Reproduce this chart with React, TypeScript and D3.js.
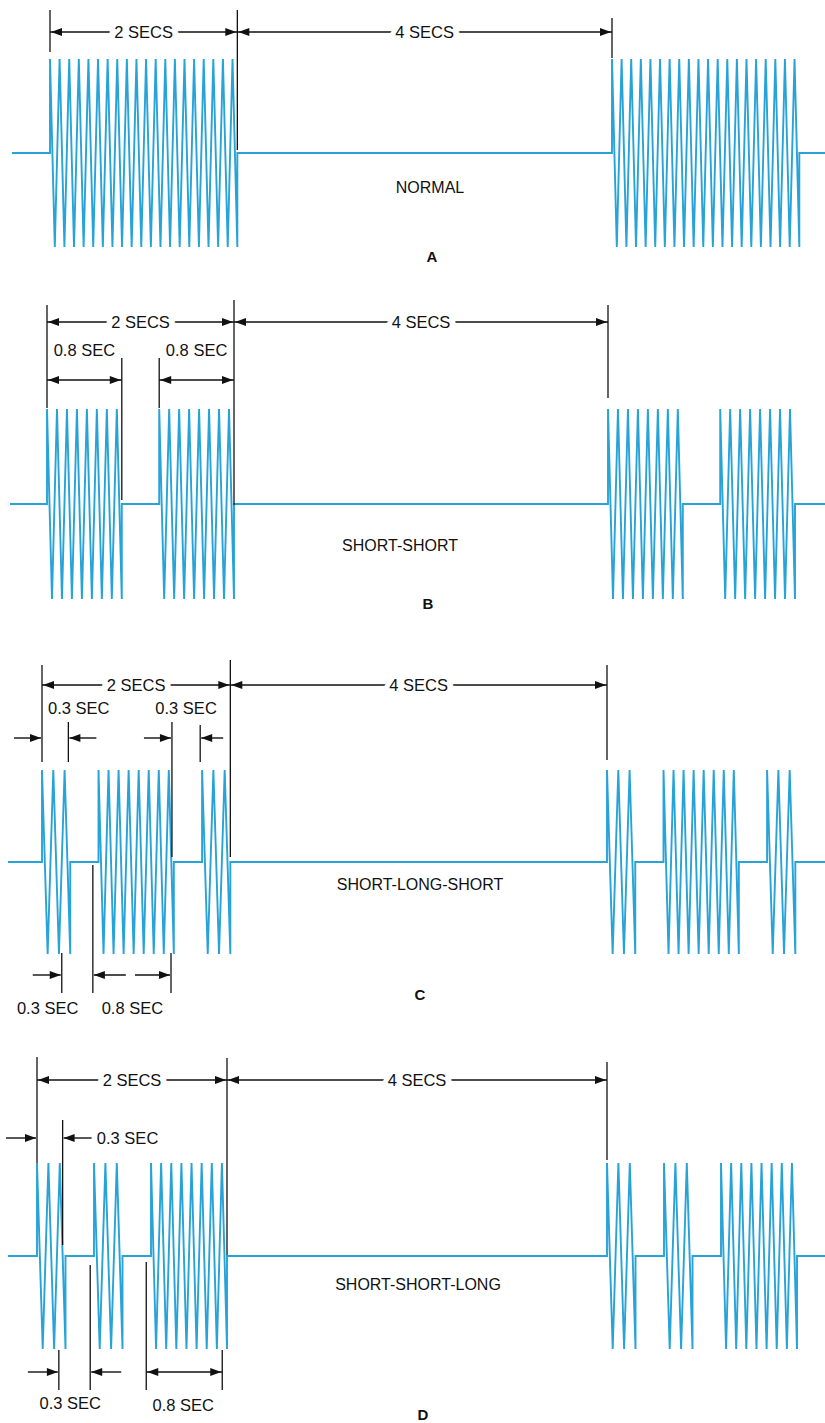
import { useEffect, useRef } from 'react';
import * as d3 from 'd3';

// carrier and repeat timing
const carrierHz = 10;
const repeatSecs = 6;

// burst patterns, seconds from the start of each cycle
const normalBursts = [[0, 2]];
const shortShortBursts = [[0, 0.8], [1.2, 2]];
const shortLongShortBursts = [[0, 0.3], [0.6, 1.4], [1.7, 2]];
const shortShortLongBursts = [[0, 0.3], [0.6, 0.9], [1.2, 2]];

const panelLetters = ['A', 'B', 'C', 'D'];
const patternNames = ['NORMAL', 'SHORT-SHORT', 'SHORT-LONG-SHORT', 'SHORT-SHORT-LONG'];
const headerMarks = [0, 2, 6];
const headerLabels = ['2 SECS', '4 SECS'];

type Ann =
  | { kind: 'ext'; t: number; y1: number; y2: number }
  | { kind: 'dim'; t1: number; t2: number; y: number }
  | { kind: 'arrow'; t: number; y: number; dir: 1 | -1; len: number }
  | { kind: 'text'; t: number; y: number; label: string; anchor?: string };

const layouts = [
  {
    bursts: normalBursts, x0: 50, x6: 612, base: 153, amp: 94, header: 32, lineStart: 12,
    title: { x: 430, y: 187 }, letter: { x: 432, y: 257 },
    headerExt: [[10, 52], [10, 150], [18, 58]],
    ann: [] as Ann[],
  },
  {
    bursts: shortShortBursts, x0: 47, x6: 608, base: 504, amp: 95, header: 322, lineStart: 10,
    title: { x: 400, y: 545 }, letter: { x: 428, y: 604 },
    headerExt: [[305, 408], [300, 505], [305, 398]],
    ann: [
      { kind: 'ext', t: 0.8, y1: 358, y2: 500 },
      { kind: 'ext', t: 1.2, y1: 358, y2: 408 },
      { kind: 'dim', t1: 0, t2: 0.8, y: 380 },
      { kind: 'dim', t1: 1.2, t2: 2, y: 380 },
      { kind: 'text', t: 0.4, y: 350, label: '0.8 SEC' },
      { kind: 'text', t: 1.6, y: 350, label: '0.8 SEC' },
    ] as Ann[],
  },
  {
    bursts: shortLongShortBursts, x0: 42, x6: 607, base: 862, amp: 92, header: 685, lineStart: 8,
    title: { x: 420, y: 884 }, letter: { x: 420, y: 995 },
    headerExt: [[665, 762], [660, 857], [665, 760]],
    ann: [
      { kind: 'ext', t: 0.28, y1: 722, y2: 762 },
      { kind: 'ext', t: 1.38, y1: 722, y2: 857 },
      { kind: 'ext', t: 1.68, y1: 725, y2: 762 },
      { kind: 'arrow', t: 0, y: 738, dir: 1, len: 27 },
      { kind: 'arrow', t: 0.28, y: 738, dir: -1, len: 27 },
      { kind: 'arrow', t: 1.38, y: 738, dir: 1, len: 27 },
      { kind: 'arrow', t: 1.68, y: 738, dir: -1, len: 22 },
      { kind: 'text', t: 0.39, y: 708, label: '0.3 SEC' },
      { kind: 'text', t: 1.53, y: 708, label: '0.3 SEC' },
      { kind: 'ext', t: 0.21, y1: 953, y2: 993 },
      { kind: 'ext', t: 0.54, y1: 865, y2: 993 },
      { kind: 'ext', t: 1.37, y1: 953, y2: 993 },
      { kind: 'arrow', t: 0.21, y: 975, dir: 1, len: 28 },
      { kind: 'arrow', t: 0.54, y: 975, dir: -1, len: 32 },
      { kind: 'arrow', t: 1.37, y: 975, dir: 1, len: 35 },
      { kind: 'text', t: 0.06, y: 1008, label: '0.3 SEC' },
      { kind: 'text', t: 0.96, y: 1008, label: '0.8 SEC' },
    ] as Ann[],
  },
  {
    bursts: shortShortLongBursts, x0: 37, x6: 607, base: 1256, amp: 93, header: 1080, lineStart: 8,
    title: { x: 418, y: 1284 }, letter: { x: 423, y: 1415 },
    headerExt: [[1057, 1163], [1058, 1255], [1062, 1160]],
    ann: [
      { kind: 'ext', t: 0.27, y1: 1120, y2: 1245 },
      { kind: 'arrow', t: 0, y: 1138, dir: 1, len: 30 },
      { kind: 'arrow', t: 0.27, y: 1138, dir: -1, len: 28 },
      { kind: 'text', t: 0.63, y: 1138, label: '0.3 SEC', anchor: 'start' },
      { kind: 'ext', t: 0.23, y1: 1350, y2: 1390 },
      { kind: 'ext', t: 0.56, y1: 1265, y2: 1390 },
      { kind: 'ext', t: 1.15, y1: 1262, y2: 1390 },
      { kind: 'ext', t: 1.95, y1: 1350, y2: 1390 },
      { kind: 'arrow', t: 0.23, y: 1372, dir: 1, len: 30 },
      { kind: 'arrow', t: 0.56, y: 1372, dir: -1, len: 30 },
      { kind: 'dim', t1: 1.15, t2: 1.95, y: 1372 },
      { kind: 'text', t: 0.35, y: 1403, label: '0.3 SEC' },
      { kind: 'text', t: 1.54, y: 1405, label: '0.8 SEC' },
    ] as Ann[],
  },
];

const WAVE = '#27a3d8';
const INK = '#111';
const FONT = '"Liberation Sans", Arial, sans-serif';

function App() {
  const svgRef = useRef<SVGSVGElement | null>(null);
  const width = 825;
  const height = 1423;

  useEffect(() => {
    const svg = d3.select(svgRef.current).attr('viewBox', `0,0,${width},${height}`);
    svg.selectAll('*').remove();

    const head = 11;
    const half = 4;
    // arrowhead with tip at (x,y), pointing in dir
    const arrowHead = (g: any, x: number, y: number, dir: number) =>
      g.append('path')
        .attr('d', `M${x},${y}L${x - dir * head},${y - half}L${x - dir * head},${y + half}Z`)
        .attr('fill', INK);

    layouts.forEach((p, i) => {
      const g = svg.append('g');
      const x = d3.scaleLinear().domain([0, repeatSecs]).range([p.x0, p.x6]);
      const y = d3.scaleLinear().domain([-1, 1]).range([p.base + p.amp, p.base - p.amp]);

      // waveform points: baseline, then bursts of zig-zag carrier
      const pts: [number, number][] = [[x.invert(p.lineStart), 0]];
      const all = [...p.bursts, ...p.bursts.map(([a, b]) => [a + repeatSecs, b + repeatSecs])];
      all.forEach(([a, b]) => {
        const n = Math.round((b - a) * carrierHz);
        const step = (b - a) / (2 * n - 1);
        pts.push([a, 0]);
        for (let j = 0; j < 2 * n; j++) pts.push([a + j * step, j % 2 === 0 ? 1 : -1]);
        pts.push([b, 0]);
      });
      pts.push([x.invert(width), 0]);

      const line = d3.line<[number, number]>().x((d) => x(d[0])).y((d) => y(d[1]));
      g.append('path')
        .attr('d', line(pts))
        .attr('fill', 'none')
        .attr('stroke', WAVE)
        .attr('stroke-width', 1.9)
        .attr('stroke-linejoin', 'miter')
        .attr('stroke-miterlimit', 30);

      // header extension lines
      headerMarks.forEach((t, k) => {
        g.append('line')
          .attr('x1', x(t)).attr('x2', x(t))
          .attr('y1', p.headerExt[k][0]).attr('y2', p.headerExt[k][1])
          .attr('stroke', INK).attr('stroke-width', 1.3);
      });

      const dim = (t1: number, t2: number, yy: number) => {
        g.append('line')
          .attr('x1', x(t1)).attr('x2', x(t2))
          .attr('y1', yy).attr('y2', yy)
          .attr('stroke', INK).attr('stroke-width', 1.4);
        arrowHead(g, x(t1) + 1, yy, -1);
        arrowHead(g, x(t2) - 1, yy, 1);
      };

      // header dimensions
      headerLabels.forEach((lab, k) => {
        const t1 = headerMarks[k];
        const t2 = headerMarks[k + 1];
        dim(t1, t2, p.header);
        g.append('text')
          .attr('x', x((t1 + t2) / 2))
          .attr('y', p.header)
          .attr('dy', '0.35em')
          .attr('text-anchor', 'middle')
          .attr('font-family', FONT)
          .attr('font-size', 16.5)
          .attr('fill', INK)
          .attr('stroke', '#fff')
          .attr('stroke-width', 10)
          .attr('paint-order', 'stroke')
          .text(lab);
      });

      p.ann.forEach((a) => {
        if (a.kind === 'ext') {
          g.append('line')
            .attr('x1', x(a.t)).attr('x2', x(a.t))
            .attr('y1', a.y1).attr('y2', a.y2)
            .attr('stroke', INK).attr('stroke-width', 1.3);
        } else if (a.kind === 'dim') {
          dim(a.t1, a.t2, a.y);
        } else if (a.kind === 'arrow') {
          const tip = x(a.t) - a.dir * 1;
          g.append('line')
            .attr('x1', tip - a.dir * a.len).attr('x2', tip)
            .attr('y1', a.y).attr('y2', a.y)
            .attr('stroke', INK).attr('stroke-width', 1.4);
          arrowHead(g, tip, a.y, a.dir);
        } else {
          g.append('text')
            .attr('x', x(a.t))
            .attr('y', a.y)
            .attr('dy', '0.35em')
            .attr('text-anchor', a.anchor ?? 'middle')
            .attr('font-family', FONT)
            .attr('font-size', 16.5)
            .attr('fill', INK)
            .text(a.label);
        }
      });

      g.append('text')
        .attr('x', p.title.x).attr('y', p.title.y).attr('dy', '0.35em')
        .attr('text-anchor', 'middle')
        .attr('font-family', FONT).attr('font-size', 16).attr('fill', INK)
        .text(patternNames[i]);

      g.append('text')
        .attr('x', p.letter.x).attr('y', p.letter.y).attr('dy', '0.35em')
        .attr('text-anchor', 'middle')
        .attr('font-family', FONT).attr('font-size', 15).attr('font-weight', 'bold').attr('fill', INK)
        .text(panelLetters[i]);
    });
  }, []);

  return (
    <svg
      ref={svgRef}
      width={width}
      height={height}
      style={{ position: 'absolute', left: 0, top: 0, background: '#fff' }}
    />
  );
}

export default App;
